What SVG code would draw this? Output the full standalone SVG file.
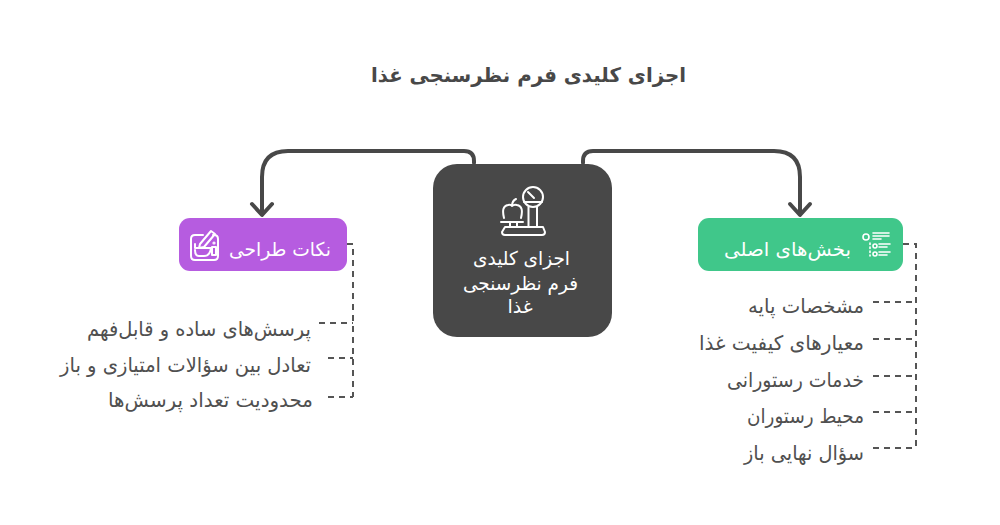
<svg xmlns="http://www.w3.org/2000/svg" width="1000" height="525" viewBox="0 0 1000 525">
<style>
text{font-family:"DejaVu Sans","Noto Sans",sans-serif;direction:rtl;text-anchor:start}
.t{font-size:20px;fill:#505050}
.w{font-size:19px;fill:#fff;text-anchor:middle}
.h{font-size:20px;font-weight:bold;fill:#484848;text-anchor:middle}
.c{fill:none;stroke:#484848;stroke-width:4;stroke-linecap:round;stroke-linejoin:round}
.d{fill:none;stroke:#555;stroke-width:2;stroke-dasharray:6 5}
.i{fill:none;stroke:#fff;stroke-width:2;stroke-linecap:round;stroke-linejoin:round}
</style>
<rect width="1000" height="525" fill="#fff"/>
<text id="title" class="h" x="528.5" y="82" textLength="315" lengthAdjust="spacingAndGlyphs">اجزای کلیدی فرم نظرسنجی غذا</text>
<g id="connectors">
<path class="c" d="M474 163V161Q474 151 464 151H288Q262 151 262 177V214"/>
<path class="c" d="M252 204L262 215L272 204"/>
<path class="c" d="M583 163V161Q583 151 593 151H774Q800 151 800 177V214"/>
<path class="c" d="M790 204L800 215L810 204"/>
<path class="d" d="M347 244H353V397"/>
<path class="d" d="M319 323H353"/>
<path class="d" d="M328 358H353"/>
<path class="d" d="M328 397H353"/>
<path class="d" d="M903 244H916V448"/>
<path class="d" d="M873 302H916"/>
<path class="d" d="M873 339H916"/>
<path class="d" d="M873 376H916"/>
<path class="d" d="M873 412H916"/>
<path class="d" d="M873 448H916"/>
</g>
<g id="center">
<rect x="433" y="164" width="179" height="173" rx="24" fill="#484848"/>
<g class="i">
<circle cx="533" cy="197" r="10"/>
<path d="M524 202H542M528 192L534 198"/>
<path d="M528.5 207V226M537 207V226"/>
<path d="M505 227H543L545 232Q545 235 542 235H505Q502 235 502 232Z"/>
<path d="M501 222H523M510 222V227M517 222V227"/>
<path d="M504 218Q501 206 508 205Q511 204 512 206Q514 204 517 205Q524 206 521 218M512 206Q512 201 516 199"/>
</g>
<text class="w" x="521.5" y="265" textLength="97" lengthAdjust="spacingAndGlyphs">اجزای کلیدی</text>
<text class="w" x="520.5" y="290" textLength="115" lengthAdjust="spacingAndGlyphs">فرم نظرسنجی</text>
<text class="w" x="520" y="313">غذا</text>
</g>
<g id="left">
<rect x="179" y="218" width="168" height="53" rx="11" fill="#b65ce0"/>
<g class="i">
<path d="M203 235H195Q191 235 191 239V256Q191 260 195 260H214Q218 260 218 256V239Q218 235 214 235H213"/>
<path d="M200 244L211 231L215 234L204 247L199 248Z"/>
<path d="M195 244V248H211Q210 256 204 256H199Q195 256 195 250"/>
<circle cx="214" cy="243" r="0.6"/>
<rect x="212" y="247" width="4" height="8"/>
</g>
<text class="w" x="280" y="256" textLength="102" lengthAdjust="spacingAndGlyphs">نکات طراحی</text>
</g>
<g id="right">
<rect x="698" y="218" width="205" height="53" rx="11" fill="#40c78a"/>
<g class="i" style="stroke-width:1.6">
<circle cx="866" cy="237" r="3"/>
<circle cx="875" cy="246" r="2"/><circle cx="875" cy="254" r="2"/>
<path d="M870 243V256" stroke-dasharray="1.5 2.5"/>
<path d="M873 233H889M873 236H889M873 239H881M879 244H890M879 247H887M879 252H890M879 255H887"/>
</g>
<text class="w" x="787.5" y="256" textLength="127" lengthAdjust="spacingAndGlyphs">بخش‌های اصلی</text>
</g>
<g id="items-left">
<text class="t" x="311" y="336" textLength="224" lengthAdjust="spacingAndGlyphs">پرسش‌های ساده و قابل‌فهم</text>
<text class="t" x="311" y="372" textLength="251" lengthAdjust="spacingAndGlyphs">تعادل بین سؤالات امتیازی و باز</text>
<text class="t" x="313" y="407" textLength="205" lengthAdjust="spacingAndGlyphs">محدودیت تعداد پرسش‌ها</text>
</g>
<g id="items-right">
<text class="t" x="864" y="313" textLength="116" lengthAdjust="spacingAndGlyphs">مشخصات پایه</text>
<text class="t" x="864" y="350" textLength="165" lengthAdjust="spacingAndGlyphs">معیارهای کیفیت غذا</text>
<text class="t" x="864" y="387" textLength="137" lengthAdjust="spacingAndGlyphs">خدمات رستورانی</text>
<text class="t" x="864" y="423" textLength="117" lengthAdjust="spacingAndGlyphs">محیط رستوران</text>
<text class="t" x="864" y="460" textLength="120" lengthAdjust="spacingAndGlyphs">سؤال نهایی باز</text>
</g>
</svg>
